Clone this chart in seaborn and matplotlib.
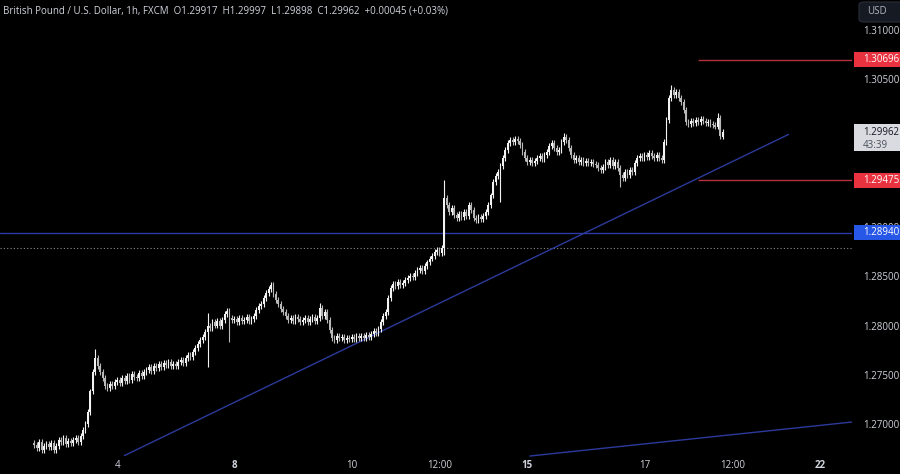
import numpy as np
import pandas as pd
import matplotlib.pyplot as plt
import matplotlib.transforms as mtransforms
from matplotlib.patches import Rectangle, FancyBboxPatch
import seaborn as sns

sns.set_theme(style='dark', rc={'axes.facecolor': 'black', 'figure.facecolor': 'black',
                                'axes.grid': False})
plt.rcParams['font.family'] = ['Open Sans', 'DejaVu Sans']

# hourly closes, GBP/USD (FXCM), one list per trading day
jul2 = [1.2679, 1.2676, 1.2682, 1.2674, 1.2678, 1.2680, 1.2677, 1.2681, 1.2674, 1.2678]
jul3 = [1.2684, 1.2682, 1.2686, 1.2680, 1.2683, 1.2681, 1.2684, 1.2686, 1.2682, 1.2688, 1.2694, 1.2700,
        1.2712, 1.2733, 1.2753, 1.2767, 1.2759, 1.2753, 1.2747, 1.2739, 1.2737, 1.2741, 1.2739, 1.2743]
jul4 = [1.2745, 1.2742, 1.2747, 1.2744, 1.2749, 1.2745, 1.2751, 1.2748, 1.2747, 1.2752, 1.2749, 1.2753,
        1.2755, 1.2758, 1.2754, 1.2759, 1.2757, 1.2761, 1.2758, 1.2762, 1.2760, 1.2763, 1.2759, 1.2761]
jul5 = [1.2759, 1.2763, 1.2765, 1.2762, 1.2767, 1.2770, 1.2768, 1.2773, 1.2777, 1.2781, 1.2785, 1.2788,
        1.2793, 1.2800, 1.2797, 1.2804, 1.2800, 1.2805, 1.2799, 1.2806, 1.2812, 1.2815, 1.2808, 1.2806]
jul8 = [1.2807, 1.2804, 1.2808, 1.2805, 1.2806, 1.2809, 1.2805, 1.2807, 1.2810, 1.2816, 1.2820, 1.2822,
        1.2828, 1.2833, 1.2837, 1.2841, 1.2832, 1.2826, 1.2822, 1.2817, 1.2814, 1.2810, 1.2806, 1.2808]
jul9 = [1.2805, 1.2809, 1.2807, 1.2804, 1.2806, 1.2808, 1.2804, 1.2807, 1.2809, 1.2805, 1.2808, 1.2818,
        1.2810, 1.2814, 1.2806, 1.2795, 1.2787, 1.2785, 1.2789, 1.2787, 1.2788, 1.2785, 1.2787, 1.2786]
jul10 = [1.2788, 1.2786, 1.2789, 1.2787, 1.2789, 1.2787, 1.2790, 1.2788, 1.2791, 1.2794, 1.2792, 1.2796,
         1.2804, 1.2810, 1.2814, 1.2828, 1.2838, 1.2842, 1.2840, 1.2844, 1.2841, 1.2843, 1.2846, 1.2848]
jul11 = [1.2850, 1.2849, 1.2853, 1.2856, 1.2858, 1.2855, 1.2860, 1.2864, 1.2868, 1.2871, 1.2875, 1.2877,
         1.2874, 1.2879, 1.2929, 1.2922, 1.2915, 1.2919, 1.2912, 1.2909, 1.2913, 1.2910, 1.2915, 1.2911]
jul12 = [1.2922, 1.2917, 1.2909, 1.2907, 1.2910, 1.2908, 1.2911, 1.2915, 1.2922, 1.2932, 1.2946, 1.2952,
         1.2956, 1.2962, 1.2970, 1.2978, 1.2985, 1.2988, 1.2986, 1.2989, 1.2987, 1.2983, 1.2976, 1.2970]
jul15 = [1.2966, 1.2968, 1.2965, 1.2967, 1.2970, 1.2972, 1.2969, 1.2973, 1.2976, 1.2982, 1.2985, 1.2980,
         1.2976, 1.2978, 1.2986, 1.2991, 1.2988, 1.2980, 1.2973, 1.2968, 1.2970, 1.2966, 1.2968, 1.2965]
jul16 = [1.2967, 1.2965, 1.2966, 1.2964, 1.2963, 1.2960, 1.2958, 1.2961, 1.2966, 1.2963, 1.2968, 1.2962,
         1.2966, 1.2960, 1.2953, 1.2950, 1.2956, 1.2953, 1.2958, 1.2956, 1.2965, 1.2970, 1.2972, 1.2970]
jul17 = [1.2973, 1.2971, 1.2975, 1.2972, 1.2970, 1.2973, 1.2970, 1.2968, 1.2986, 1.3009, 1.3031, 1.3039,
         1.3034, 1.3037, 1.3031, 1.3027, 1.3019, 1.3007, 1.3005, 1.3008, 1.3006, 1.3009, 1.3007, 1.3010]
jul18 = [1.3008, 1.3006, 1.3007, 1.3005, 1.3004, 1.3002, 1.3011, 1.2992, 1.29962]

first_hour = 14          # hours counted from Jul 2 00:00 (trading hours only)
first_open = 1.2681
last_open = 1.29917
# hour -> (high, low) for the candles with long wicks
spikes = {39: (1.2776, None), 85: (1.2813, 1.2758), 94: (None, 1.2783), 111: (1.2844, None),
          131: (1.2823, None), 137: (None, 1.2782), 182: (1.2948, 1.2872), 205: (None, 1.2925),
          231: (1.2995, None), 254: (None, 1.2941), 275: (1.3044, None), 294: (1.3016, None),
          296: (1.29997, 1.29898)}

# drawn levels / trend lines
support_level = 1.28940
dotted_level = 1.28787
red_levels = [1.30696, 1.29475]
trend1_h, trend1_p = [51, 323], [1.2668, 1.2994]
trend2_h, trend2_p = [217, 349], [1.26675, 1.2702]

tick_hours = [48, 96, 144, 180, 216, 264, 300, 336]
tick_labels = ['4', '8', '10', '12:00', '15', '17', '12:00', '22']
bold_ticks = ['8', '15', '22']
price_ticks = [1.27, 1.275, 1.28, 1.285, 1.29, 1.295, 1.30, 1.305, 1.31]

closes = np.array(jul2 + jul3 + jul4 + jul5 + jul8 + jul9 + jul10 + jul11 + jul12 +
                  jul15 + jul16 + jul17 + jul18)
hours = np.arange(first_hour, first_hour + len(closes))
opens = np.r_[first_open, closes[:-1]]
opens[-1] = last_open
wick = 0.0003
highs = np.maximum(opens, closes) + wick
lows = np.minimum(opens, closes) - wick
for h, (hi, lo) in spikes.items():
    i = h - first_hour
    if hi is not None:
        highs[i] = hi
    if lo is not None:
        lows[i] = lo

df = pd.DataFrame({'hour': hours, 'open': opens, 'high': highs, 'low': lows, 'close': closes})
df['up'] = df['close'] >= df['open']
colors = np.where(df['up'], '#f2f2f2', '#b8b8b8')

fig = plt.figure(figsize=(9, 4.74), dpi=100)
ax = fig.add_axes([0, 17 / 474, 852 / 900, 457 / 474])
ax.set_facecolor('black')

# horizontal levels
ax.axhline(support_level, color='#2b3aa6', lw=1, zorder=1)
ax.axhline(dotted_level, color='#8c8c8c', lw=0.8, ls=(0, (1, 2)), zorder=1)
ax.hlines(red_levels, 286, 349, color='#b3323c', lw=1, zorder=1)

# trend lines
sns.lineplot(x=trend1_h, y=trend1_p, ax=ax, color='#2c3a9c', lw=1, zorder=1)
sns.lineplot(x=trend2_h, y=trend2_p, ax=ax, color='#2c3a9c', lw=1, zorder=1)

# candles
ax.vlines(df['hour'], df['low'], df['high'], color=colors, lw=0.8, zorder=2)
body = (df['close'] - df['open']).abs().clip(lower=0.00005)
ax.bar(df['hour'], body, bottom=df[['open', 'close']].min(axis=1), width=0.72,
       color=colors, linewidth=0, zorder=3)

ax.set_xlim(0, 349)
ax.set_ylim(1.26665, 1.313046)
for s in ax.spines.values():
    s.set_visible(False)

ax.yaxis.tick_right()
ax.set_yticks(price_ticks)
ax.set_yticklabels([f'{v:.5f}' for v in price_ticks])
ax.set_xticks(tick_hours)
ax.set_xticklabels(tick_labels)
ax.tick_params(axis='y', length=0, pad=8, labelsize=7, colors='#d1d4dc')
ax.tick_params(axis='x', length=0, pad=2.5, labelsize=7, colors='#d1d4dc')
for t in ax.get_xticklabels():
    if t.get_text() in bold_ticks:
        t.set_fontweight('bold')
ax.set_xlabel('')
ax.set_ylabel('')

# price labels on the right scale
tr = mtransforms.blended_transform_factory(ax.transAxes, ax.transData)
box_w = 900 / 852 - 1.002
half = 7.5 / 9850


def price_tag(price, text, fc, tc='white'):
    ax.add_patch(Rectangle((1.002, price - half), box_w, 2 * half, transform=tr,
                           facecolor=fc, edgecolor='none', clip_on=False, zorder=6))
    ax.text(1.013, price, text, transform=tr, color=tc, fontsize=7, va='center',
            ha='left', clip_on=False, zorder=7)


price_tag(red_levels[0], '1.30696', '#e8323f')
price_tag(red_levels[1], '1.29475', '#e8323f')
price_tag(support_level, '1.28940', '#2757e6')

# last price + countdown
ax.add_patch(Rectangle((1.002, 1.29962 - 19 / 9850), box_w, 27 / 9850, transform=tr,
                       facecolor='#d9dbe0', edgecolor='none', clip_on=False, zorder=6))
ax.text(1.013, 1.29962, '1.29962', transform=tr, color='#131722', fontsize=7,
        va='center', ha='left', clip_on=False, zorder=7)
ax.text(1.013, 1.29962 - 13 / 9850, '43:39', transform=tr, color='#4a4e59', fontsize=7,
        va='center', ha='left', clip_on=False, zorder=7)

# currency button
fig.add_artist(FancyBboxPatch((859 / 900, 452 / 474), 45 / 900, 20 / 474,
                              boxstyle='round,pad=0,rounding_size=0.006',
                              transform=fig.transFigure, facecolor='#161a22',
                              edgecolor='#2a2e39', lw=0.8))
fig.text(867 / 900, 462 / 474, 'USD', color='#b2b5be', fontsize=7, va='center', ha='left')

fig.text(3 / 900, 463 / 474,
         'British Pound / U.S. Dollar, 1h, FXCM  O1.29917  H1.29997  L1.29898  C1.29962  '
         '+0.00045 (+0.03%)', color='#d1d4dc', fontsize=7, va='center', ha='left')

fig.savefig('out.png', dpi=100, facecolor='black')
